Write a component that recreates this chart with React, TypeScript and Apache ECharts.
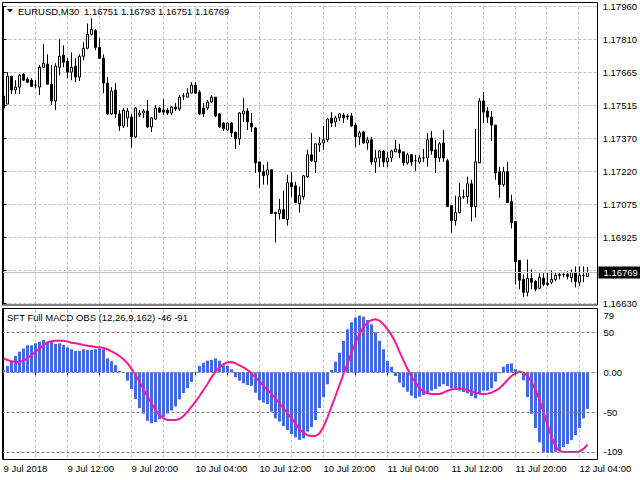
import React, { useEffect, useRef } from 'react';
import * as echarts from 'echarts';

// ---------- data ----------
const SYMBOL_TITLE = 'EURUSD,M30';
const OHLC_TEXT = '1.16751 1.16793 1.16751 1.16769';
const MACD_TITLE = 'SFT Full MACD OBS (12,26,9,162) -46 -91';

const DATE_LABELS = ['9 Jul 2018', '9 Jul 12:00', '9 Jul 20:00', '10 Jul 04:00', '10 Jul 12:00', '10 Jul 20:00', '11 Jul 04:00', '11 Jul 12:00', '11 Jul 20:00', '12 Jul 04:00'];
const PRICE_TICKS = ['1.16630', '', '1.16925', '1.17075', '1.17220', '1.17370', '1.17515', '1.17665', '1.17810', '1.17960'];
const PRICE_MIN = 1.1663;
const PRICE_MAX = 1.1796;
const LAST_PRICE = 1.16769;
const MACD_MIN = -109;
const MACD_MAX = 79;
const MACD_LEVELS = [50, 0, -50, -100];

const OPEN = [1.17559,1.17523,1.17648,1.17586,1.17599,1.17657,1.17635,1.17630,1.17608,1.17599,1.17688,1.17702,1.17612,1.17537,1.17688,1.17742,1.17715,1.17666,1.17693,1.17644,1.17737,1.17773,1.17835,1.17853,1.17777,1.17728,1.17617,1.17479,1.17586,1.17479,1.17425,1.17461,1.17465,1.17376,1.17474,1.17483,1.17492,1.17421,1.17456,1.17505,1.17496,1.17496,1.17483,1.17510,1.17501,1.17559,1.17554,1.17572,1.17608,1.17577,1.17505,1.17505,1.17532,1.17554,1.17479,1.17438,1.17407,1.17438,1.17398,1.17367,1.17479,1.17492,1.17438,1.17416,1.17264,1.17220,1.17206,1.17229,1.17037,1.17033,1.17050,1.17006,1.17171,1.17157,1.17077,1.17108,1.17198,1.17296,1.17264,1.17340,1.17349,1.17363,1.17461,1.17443,1.17461,1.17474,1.17470,1.17470,1.17429,1.17376,1.17398,1.17349,1.17363,1.17264,1.17282,1.17313,1.17264,1.17282,1.17309,1.17318,1.17309,1.17260,1.17296,1.17269,1.17264,1.17282,1.17282,1.17371,1.17318,1.17282,1.17349,1.17269,1.17068,1.17001,1.17037,1.17108,1.17108,1.17166,1.17064,1.17260,1.17537,1.17492,1.17465,1.17429,1.17220,1.17162,1.17220,1.17086,1.16997,1.16823,1.16738,1.16680,1.16743,1.16729,1.16698,1.16743,1.16720,1.16725,1.16738,1.16756,1.16760,1.16760,1.16747,1.16769,1.16725,1.16756,1.16751];
const CLOSE = [1.17505,1.17648,1.17586,1.17599,1.17652,1.17630,1.17621,1.17603,1.17608,1.17688,1.17706,1.17612,1.17537,1.17693,1.17737,1.17710,1.17666,1.17688,1.17644,1.17737,1.17773,1.17835,1.17858,1.17777,1.17728,1.17617,1.17479,1.17581,1.17479,1.17425,1.17496,1.17492,1.17376,1.17505,1.17483,1.17492,1.17421,1.17461,1.17505,1.17487,1.17487,1.17483,1.17510,1.17501,1.17554,1.17559,1.17572,1.17608,1.17572,1.17479,1.17479,1.17532,1.17554,1.17470,1.17421,1.17412,1.17438,1.17394,1.17367,1.17483,1.17492,1.17443,1.17421,1.17260,1.17220,1.17202,1.17229,1.17033,1.17033,1.17050,1.17010,1.17171,1.17153,1.17082,1.17113,1.17202,1.17296,1.17269,1.17345,1.17349,1.17363,1.17456,1.17438,1.17461,1.17479,1.17461,1.17465,1.17425,1.17376,1.17394,1.17349,1.17363,1.17264,1.17282,1.17313,1.17264,1.17282,1.17313,1.17322,1.17305,1.17260,1.17296,1.17264,1.17269,1.17282,1.17282,1.17363,1.17313,1.17282,1.17345,1.17282,1.17064,1.17001,1.17037,1.17108,1.17108,1.17166,1.17064,1.17264,1.17537,1.17487,1.17465,1.17429,1.17215,1.17162,1.17220,1.17082,1.16992,1.16818,1.16734,1.16680,1.16743,1.16725,1.16694,1.16747,1.16716,1.16716,1.16738,1.16756,1.16760,1.16760,1.16752,1.16769,1.16729,1.16756,1.16756,1.16769];
const HIGH = [1.17559,1.17666,1.17648,1.17630,1.17657,1.17661,1.17644,1.17639,1.17630,1.17697,1.17791,1.17746,1.17697,1.17706,1.17813,1.17786,1.17728,1.17755,1.17728,1.17746,1.17800,1.17884,1.17907,1.17858,1.17818,1.17746,1.17644,1.17599,1.17617,1.17496,1.17505,1.17505,1.17479,1.17510,1.17496,1.17501,1.17541,1.17465,1.17519,1.17510,1.17545,1.17505,1.17514,1.17528,1.17563,1.17572,1.17594,1.17621,1.17621,1.17586,1.17528,1.17541,1.17563,1.17554,1.17483,1.17443,1.17438,1.17443,1.17398,1.17487,1.17550,1.17505,1.17483,1.17421,1.17264,1.17251,1.17264,1.17229,1.17041,1.17099,1.17135,1.17206,1.17220,1.17175,1.17153,1.17206,1.17318,1.17394,1.17345,1.17376,1.17425,1.17461,1.17487,1.17470,1.17483,1.17483,1.17479,1.17483,1.17438,1.17403,1.17403,1.17376,1.17376,1.17318,1.17318,1.17318,1.17309,1.17318,1.17363,1.17345,1.17309,1.17305,1.17300,1.17296,1.17296,1.17322,1.17394,1.17403,1.17363,1.17354,1.17407,1.17278,1.17068,1.17113,1.17171,1.17140,1.17198,1.17184,1.17412,1.17550,1.17577,1.17510,1.17492,1.17429,1.17242,1.17242,1.17264,1.17117,1.16997,1.16823,1.16760,1.16827,1.16783,1.16734,1.16765,1.16765,1.16769,1.16778,1.16769,1.16769,1.16769,1.16774,1.16783,1.16796,1.16796,1.16796,1.16793];
const LOW = [1.17501,1.17523,1.17568,1.17568,1.17568,1.17626,1.17617,1.17599,1.17594,1.17563,1.17684,1.17612,1.17519,1.17496,1.17652,1.17688,1.17639,1.17630,1.17621,1.17626,1.17719,1.17768,1.17831,1.17764,1.17728,1.17572,1.17474,1.17474,1.17461,1.17403,1.17416,1.17421,1.17327,1.17371,1.17465,1.17461,1.17416,1.17398,1.17452,1.17483,1.17474,1.17474,1.17474,1.17492,1.17492,1.17541,1.17554,1.17572,1.17568,1.17474,1.17465,1.17496,1.17528,1.17465,1.17416,1.17403,1.17403,1.17376,1.17322,1.17340,1.17443,1.17407,1.17398,1.17215,1.17148,1.17162,1.17162,1.17033,1.16903,1.17006,1.17010,1.16979,1.17108,1.17082,1.17037,1.17095,1.17193,1.17264,1.17215,1.17309,1.17318,1.17354,1.17421,1.17421,1.17447,1.17438,1.17452,1.17421,1.17331,1.17340,1.17345,1.17318,1.17251,1.17215,1.17242,1.17242,1.17242,1.17264,1.17309,1.17282,1.17247,1.17251,1.17247,1.17224,1.17256,1.17264,1.17242,1.17296,1.17215,1.17264,1.17264,1.17064,1.16948,1.16979,1.17033,1.17099,1.17077,1.16997,1.17015,1.17260,1.17438,1.17438,1.17358,1.17184,1.17104,1.17153,1.17082,1.16966,1.16716,1.16694,1.16658,1.16662,1.16694,1.16685,1.16694,1.16707,1.16707,1.16716,1.16729,1.16738,1.16747,1.16738,1.16725,1.16702,1.16707,1.16725,1.16751];

const HIST = [3,8,14,20.5,26,30,34,34,36.5,38.5,40.7,39,38,35.6,36.5,34.4,31.4,29,27,27,29,28,28,29,30,29,17.6,14,9,2,-1,-10.5,-21,-33.5,-45,-52,-61,-64,-62.5,-59,-56,-52,-48,-43,-34,-26,-20,-12,0,8,12,14.7,15.5,17.6,14.7,8.8,8,3.8,-6.3,-10.5,-13.8,-16,-17,-25.6,-35,-38,-40,-49.5,-58,-62,-67.5,-72.5,-77.6,-81.8,-85,-83,-74.6,-69,-60,-45,-31.4,-15,3,13.4,24.7,39.4,54,63,68.8,71.3,70,65.8,60.4,50.3,39.8,29,14.3,7,-4.6,-13,-18.9,-24.3,-29.4,-32.7,-30.6,-28.5,-26.4,-23,-21,-18,-15,-17.2,-20,-22.2,-23,-24.7,-26.4,-29.8,-32.7,-27.3,-23,-23,-20,-11.7,-1.3,7,10.5,11.3,4,2,-10,-31,-52,-70,-88,-100,-101,-101,-100,-98,-94,-90,-85,-79,-70,-58,-46];
const SIGNAL = [17.6,15.5,13.8,13,13.4,14.7,17.6,21.8,26,30,34.4,37.3,39,39.8,39.8,39.8,38.6,37.3,36.5,35.6,34.4,33.5,32.7,31.9,31.4,30.6,29,26.4,23.9,20.5,16.4,11.3,4.6,-3.4,-11.7,-21.4,-30.6,-39,-47.4,-53.7,-57.9,-60,-60,-60,-58.7,-54.9,-49.5,-43.2,-36.9,-29.8,-22.2,-14.7,-6.3,0.8,6.3,10.5,12.6,13,11.3,8.8,6.3,2.9,-1.3,-6.3,-11.7,-17.2,-22.2,-27.3,-32.7,-39,-45.3,-51.6,-57.9,-64.2,-71.7,-75.9,-79.2,-80,-80,-77,-68.3,-56.6,-43.2,-29.8,-15.9,-2.1,11.3,24.7,37.3,49,57.4,62.9,65.8,66.7,65,60.4,54.1,47,37.3,26,14.7,4.2,-5.5,-13,-20.1,-24.3,-26.4,-27.3,-27.3,-27.3,-25.6,-23.1,-21.4,-21,-20.5,-21,-22.2,-23.9,-25.6,-26.8,-27.3,-26.8,-25.6,-23.1,-20.1,-15.1,-9.6,-4.6,-1.3,0.8,-0.4,-4.6,-11.7,-22.2,-34.8,-50.7,-66.2,-80.9,-93.5,-99,-100.2,-100.2,-100.2,-100.2,-99.4,-96.4,-91];

const EMPTY_SLOTS = 2; // chart shift at the right edge

// ---------- chart ----------
const FONT = 'Liberation Sans, Arial, sans-serif';
const FS = 9.5;

function buildOption() {
  const slots = OPEN.length + EMPTY_SLOTS;
  const cats = Array.from({ length: slots }, (_, i) => 'b' + i);
  const candles = OPEN.map((o, i) => [o, CLOSE[i], LOW[i], HIGH[i]]);
  const gridLine = { color: '#c0c0c0', type: [3, 2], width: 1 };

  const frameX = (gridIndex: number) => ({
    type: 'value', gridIndex, min: 0, max: 594, interval: 32,
    axisLine: { show: false }, axisTick: { show: false }, axisLabel: { show: false },
    splitLine: { show: true, showMinLine: false, showMaxLine: false, lineStyle: gridLine },
  });

  return {
    animation: false,
    backgroundColor: '#ffffff',
    textStyle: { fontFamily: FONT },
    grid: [
      { left: 1.5, top: 6.5, width: 596, height: 297 },
      { left: 3.5, top: 6.5, width: 594, height: 297 },
      { left: 1.5, top: 309.5, width: 596, height: 149.5 },
      { left: 3.5, top: 309.5, width: 594, height: 149.5 },
    ],
    xAxis: [
      { type: 'category', gridIndex: 0, data: cats, boundaryGap: true, show: false },
      frameX(1),
      {
        type: 'category', gridIndex: 2, data: cats, boundaryGap: true,
        axisLine: { show: false },
        axisTick: { show: true, interval: 7, alignWithLabel: true, length: 3, lineStyle: { color: '#000' } },
        axisLabel: {
          interval: 15, align: 'left', margin: 4, fontSize: FS, color: '#000', fontFamily: FONT,
          formatter: (_v: string, idx: number) => (idx % 16 === 0 && DATE_LABELS[idx / 16]) || '',
        },
        splitLine: { show: false },
      },
      frameX(3),
    ],
    yAxis: [
      { type: 'value', gridIndex: 0, min: PRICE_MIN, max: PRICE_MAX, show: false },
      {
        type: 'value', gridIndex: 1, min: 0, max: PRICE_TICKS.length - 1, interval: 1, position: 'right',
        axisLine: { show: true, lineStyle: { color: '#000' } },
        axisTick: { show: true, length: 3, lineStyle: { color: '#000' } },
        axisLabel: { margin: 6, fontSize: FS, color: '#000', fontFamily: FONT, formatter: (v: number) => PRICE_TICKS[Math.round(v)] ?? '' },
        splitLine: { show: true, lineStyle: gridLine },
      },
      { type: 'value', gridIndex: 2, min: MACD_MIN, max: MACD_MAX, show: false },
      {
        type: 'value', gridIndex: 3, min: MACD_MIN, max: MACD_MAX, position: 'right',
        axisLine: { show: true, lineStyle: { color: '#000' } },
        axisTick: { show: false },
        splitLine: { show: false },
        axisLabel: {
          margin: 6, fontSize: FS, color: '#000', fontFamily: FONT,
          // the window max/min labels are pulled inside the pane, as the terminal does
          customValues: [MACD_MAX - 7, 50, 0, -50, -100],
          formatter: (v: number) => {
            if (v === MACD_MAX - 7) return String(MACD_MAX);
            if (v === -100) return String(MACD_MIN);
            if (v === 0) return '0.00';
            return String(v);
          },
        },
      },
    ],
    series: [
      {
        type: 'candlestick', xAxisIndex: 0, yAxisIndex: 0, data: candles, barWidth: 2, clip: false,
        itemStyle: { color: '#ffffff', color0: '#000000', borderColor: '#000000', borderColor0: '#000000', borderWidth: 1 },
        emphasis: { disabled: true },
        markLine: {
          silent: true, symbol: ['none', 'none'], animation: false, precision: 5,
          data: [{ yAxis: LAST_PRICE }],
          lineStyle: { color: '#c0c0c0', type: 'solid', width: 1 },
          label: {
            show: true, position: 'end', distance: 1, formatter: LAST_PRICE.toFixed(5),
            backgroundColor: '#000', color: '#fff', padding: [1, 5, 1, 5], fontSize: FS, fontFamily: FONT,
          },
        },
      },
      {
        type: 'bar', xAxisIndex: 2, yAxisIndex: 2, data: HIST, barWidth: 3,
        itemStyle: { color: '#4169E1' },
        emphasis: { disabled: true },
        markLine: {
          silent: true, symbol: ['none', 'none'], animation: false, precision: 2,
          data: MACD_LEVELS.map((v) => ({ yAxis: v })),
          lineStyle: { color: '#808080', type: [3, 2], width: 1 },
          label: { show: false },
        },
      },
      {
        type: 'line', xAxisIndex: 2, yAxisIndex: 2, data: SIGNAL, symbol: 'none',
        lineStyle: { color: '#FF1493', width: 2 }, itemStyle: { color: '#FF1493' },
        emphasis: { disabled: true },
      },
    ],
    graphic: [
      { type: 'rect', z: 100, silent: true, shape: { x: 2.5, y: 2.5, width: 595, height: 302.5 }, style: { fill: 'none', stroke: '#000', lineWidth: 1 } },
      { type: 'rect', z: 100, silent: true, shape: { x: 2.5, y: 308.5, width: 595, height: 151 }, style: { fill: 'none', stroke: '#000', lineWidth: 1 } },
      { type: 'polygon', z: 100, silent: true, shape: { points: [[7, 9], [13, 9], [10, 12.5]] }, style: { fill: '#000' } },
      { type: 'text', z: 100, silent: true, x: 18, y: 11, style: { text: SYMBOL_TITLE, fill: '#000', font: `${FS}px ${FONT}`, textAlign: 'left', textVerticalAlign: 'middle', align: 'left', verticalAlign: 'middle' } },
      { type: 'text', z: 100, silent: true, x: 84, y: 11, style: { text: OHLC_TEXT, fill: '#000', font: `${FS}px ${FONT}`, textAlign: 'left', textVerticalAlign: 'middle', align: 'left', verticalAlign: 'middle' } },
      { type: 'text', z: 100, silent: true, x: 7, y: 317, style: { text: MACD_TITLE, fill: '#000', font: `${FS}px ${FONT}`, textAlign: 'left', textVerticalAlign: 'middle', align: 'left', verticalAlign: 'middle' } },
    ],
  };
}

export default function App() {
  const ref = useRef<HTMLDivElement>(null);
  useEffect(() => {
    if (!ref.current) return;
    const chart = echarts.init(ref.current, null, { renderer: 'svg', width: 640, height: 480 });
    chart.setOption(buildOption() as any);
    return () => chart.dispose();
  }, []);
  return (
    <div
      ref={ref}
      style={{ position: 'fixed', left: 0, top: 0, width: 640, height: 480, background: '#fff' }}
    />
  );
}
